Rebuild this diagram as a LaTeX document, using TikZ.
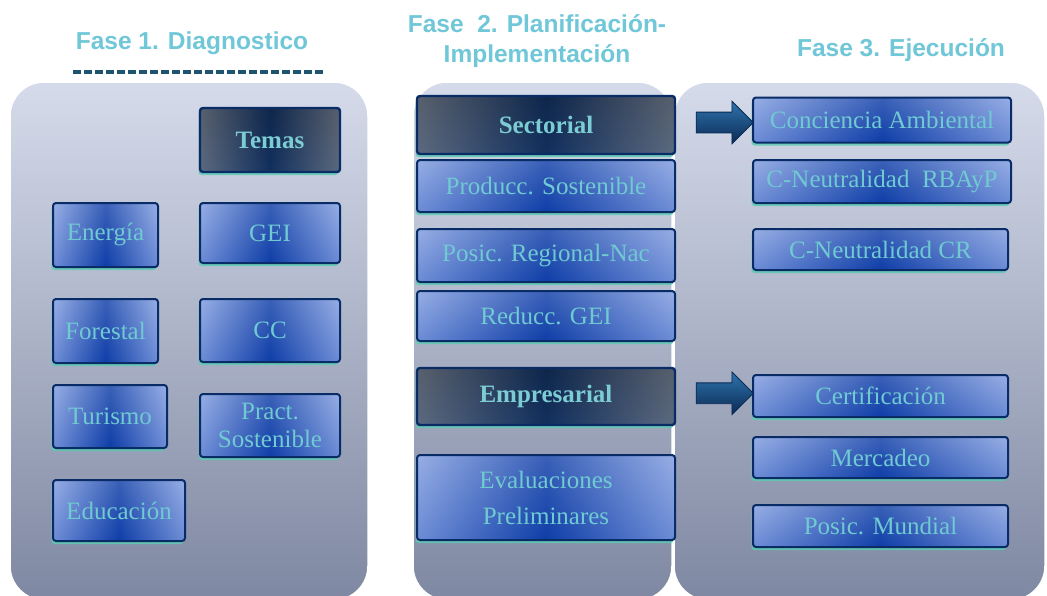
\documentclass[tikz,border=0pt]{standalone}
\usepackage{fontspec}
\setmainfont{Liberation Serif}
\newfontfamily\headfont{Liberation Sans}
\usetikzlibrary{shapes.arrows,shadows,calc}
\definecolor{paneltop}{HTML}{D5DBEA}
\definecolor{panelbot}{HTML}{7F88A2}
\definecolor{boxlight}{HTML}{819DE0}
\definecolor{boxdark}{HTML}{0F3EA8}
\definecolor{boxborder}{HTML}{0A2C66}
\definecolor{boxtext}{HTML}{6FCAD2}
\definecolor{hdlight}{HTML}{6E7888}
\definecolor{hddark}{HTML}{12305E}
\definecolor{hdtext}{HTML}{7CCCD4}
\definecolor{shadowteal}{HTML}{5EC9B3}
\definecolor{titlecol}{HTML}{6FC7D8}
\definecolor{dashcol}{HTML}{1E5470}
\definecolor{arrtop}{HTML}{2F74AC}
\definecolor{arrbot}{HTML}{0A2A55}
\begin{document}
\begin{tikzpicture}[x=1pt,y=-1pt,
  panel/.style={rounded corners=34pt, top color=paneltop, bottom color=panelbot, draw=white, line width=1.5pt},
  title/.style={font=\headfont\bfseries\fontsize{24.5}{30}\selectfont, text=titlecol, align=center, inner sep=0pt},
  box/.style={rectangle, rounded corners=3pt, draw=boxborder, line width=2pt,
    inner sep=0pt, align=center, text=boxtext, font=\fontsize{25}{28}\selectfont,
    drop shadow={shadow xshift=-1.5pt, shadow yshift=-3pt, fill=shadowteal, opacity=0.85}},
  bluebox/.style={box, left color=boxlight, right color=boxlight, middle color=boxdark,
    path picture={\shade[top color=white, bottom color=boxdark, opacity=0.18]
      (path picture bounding box.north west) rectangle (path picture bounding box.south east);}},
  headbox/.style={box, left color=hdlight, right color=hdlight, middle color=hddark,
    line width=2.4pt, text=hdtext, font=\bfseries\fontsize{25}{28}\selectfont,
    path picture={\shade[top color=black, bottom color=hddark, opacity=0.2]
      (path picture bounding box.north west) rectangle (path picture bounding box.south east);}},
  blockarrow/.style={single arrow, draw=arrbot, line width=0.8pt, top color=arrtop, bottom color=arrbot,
    minimum height=57pt, inner xsep=0pt, inner ysep=10pt, single arrow head extend=11pt, anchor=center}
]
\useasboundingbox (0,0) rectangle (1047,595);
\fill[white] (0,0) rectangle (1047,595);

% panels
\path[panel] (10,82) rectangle (368,600);
\path[panel] (413,82) rectangle (672,600);
\path[panel] (674,82) rectangle (1045,600);

% titles
\node[title] (t1) at (192,43) {Fase 1. Diagnostico};
\draw[dashcol, line width=4pt, dash pattern=on 8pt off 3pt] (73,72) -- (325,72);
\node[title] (t2) at (537,41) {Fase~~2. Planificación-\\Implementación};
\node[title] (t3) at (901,50) {Fase 3. Ejecución};

% phase 1
\node[headbox, minimum width=140pt, minimum height=64pt] (temas) at (270,140) {Temas};
\node[bluebox, minimum width=105pt, minimum height=64pt] (energia) at (105.5,235) {Energía};
\node[bluebox, minimum width=140pt, minimum height=60pt] (gei) at (270,233) {GEI};
\node[bluebox, minimum width=105pt, minimum height=64pt] (forestal) at (105.5,331) {Forestal};
\node[bluebox, minimum width=140pt, minimum height=63pt] (cc) at (270,330.5) {CC};
\node[bluebox, minimum width=114pt, minimum height=63pt] (turismo) at (110,416.5) {Turismo};
\node[bluebox, minimum width=140pt, minimum height=63pt, font=\fontsize{25}{28}\selectfont] (pract) at (270,425.5) {Pract.\\Sostenible};
\node[bluebox, minimum width=132pt, minimum height=61pt] (educ) at (119,510.5) {Educación};

% phase 2
\node[headbox, minimum width=258pt, minimum height=58pt] (sect) at (546,125) {Sectorial};
\node[bluebox, minimum width=258pt, minimum height=52pt] (prod) at (546,186) {Producc. Sostenible};
\node[bluebox, minimum width=258pt, minimum height=53pt] (posreg) at (546,255.5) {Posic. Regional-Nac};
\node[bluebox, minimum width=258pt, minimum height=50pt] (reduc) at (546,316) {Reducc. GEI};
\node[headbox, minimum width=258pt, minimum height=57pt] (emp) at (546,396.5) {Empresarial};
\node[bluebox, minimum width=258pt, minimum height=85pt, font=\fontsize{25}{36}\selectfont] (evap) at (546,497.5) {Evaluaciones\\Preliminares};

% phase 3
\node[bluebox, minimum width=258pt, minimum height=45pt] (conc) at (882,120) {Conciencia Ambiental};
\node[bluebox, minimum width=258pt, minimum height=43pt] (rbayp) at (882,181.5) {C-Neutralidad~~RBAyP};
\node[bluebox, minimum width=255pt, minimum height=41pt] (cr) at (880.5,249.5) {C-Neutralidad CR};
\node[bluebox, minimum width=255pt, minimum height=42pt] (cert) at (880.5,396) {Certificación};
\node[bluebox, minimum width=255pt, minimum height=41pt] (merc) at (880.5,457.5) {Mercadeo};
\node[bluebox, minimum width=255pt, minimum height=42pt] (posm) at (880.5,526) {Posic. Mundial};

% arrows
\node[blockarrow] (a1) at ($(sect.east)!0.5!(conc.west)+(5.5,0)$) {};
\node[blockarrow] (a2) at ($(emp.east)!0.5!(cert.west)+(5.5,-3)$) {};
\end{tikzpicture}
\end{document}
